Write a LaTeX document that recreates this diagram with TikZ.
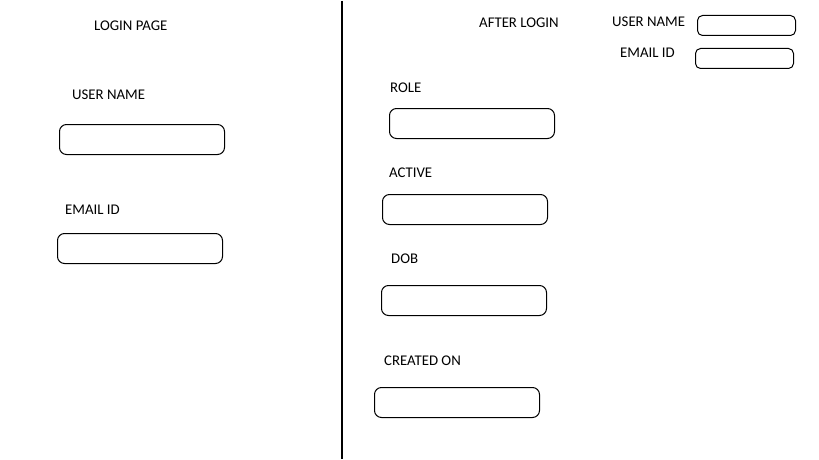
\documentclass[tikz,border=0pt]{standalone}
\usepackage{fontspec}
\setmainfont{Carlito}
\usetikzlibrary{positioning}
\tikzset{
  lbl/.style={anchor=west,inner sep=0pt,font=\fontsize{14.8}{17}\selectfont},
  field/.style={draw=black,line width=1pt,rounded corners=7pt,anchor=north west,inner sep=0pt,minimum width=165pt,minimum height=30pt},
  smallfield/.style={field,rounded corners=5pt,minimum width=98pt,minimum height=20pt}
}
\begin{document}
\begin{tikzpicture}[x=1pt,y=-1pt]
\useasboundingbox (0,0) rectangle (819,460);
% divider
\coordinate (top) at (342,1);
\coordinate (bot) at (342,459);
\draw[line width=1.1pt] (top) -- (bot);

% login page
\node[lbl] (login) at (94,26) {LOGIN PAGE};
\node[lbl] (lname) at (72,95) {USER NAME};
\node[field] (lnamebox) at (59,124) {};
\node[lbl] (lmail) at (65,210) {EMAIL ID};
\node[field] (lmailbox) at (57,233) {};

% after login
\node[lbl] (after) at (479,23) {AFTER LOGIN};
\node[lbl] (uname) at (612,22) {USER NAME};
\node[smallfield] (unamebox) at (697,15) {};
\node[lbl] (umail) at (620,53) {EMAIL ID};
\node[smallfield] (umailbox) at (695,48) {};
\node[lbl] (role) at (390,88) {ROLE};
\node[field] (rolebox) at (389,108) {};
\node[lbl] (active) at (389,173) {ACTIVE};
\node[field] (activebox) at (382,194) {};
\node[lbl] (dob) at (391,259) {DOB};
\node[field] (dobbox) at (381,285) {};
\node[lbl] (created) at (384,361) {CREATED ON};
\node[field] (createdbox) at (374,387) {};
\end{tikzpicture}
\end{document}
